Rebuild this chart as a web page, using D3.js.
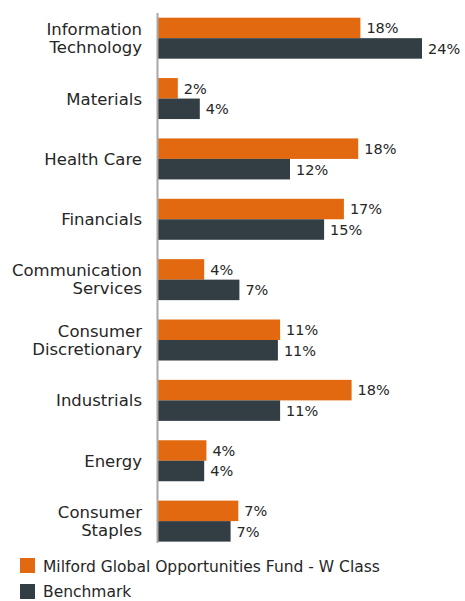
<!DOCTYPE html>
<html>
<head>
<meta charset="utf-8">
<script src="https://cdn.jsdelivr.net/npm/d3@7/dist/d3.min.js"></script>
<style>
  html, body { margin: 0; padding: 0; background: #ffffff; }
  svg { display: block; }
  text { font-family: "DejaVu Sans", sans-serif; fill: #262626; }
</style>
</head>
<body>
<svg id="chart" width="465" height="601"></svg>
<script>
// ---- data ----
const categories = [
  ["Information", "Technology"],
  ["Materials"],
  ["Health Care"],
  ["Financials"],
  ["Communication", "Services"],
  ["Consumer", "Discretionary"],
  ["Industrials"],
  ["Energy"],
  ["Consumer", "Staples"]
];
const seriesNames = ["Milford Global Opportunities Fund - W Class", "Benchmark"];
const fundValues = [18.4, 1.8, 18.2, 16.9, 4.2, 11.1, 17.6, 4.4, 7.3];
const benchmarkValues = [24.0, 3.8, 12.0, 15.1, 7.4, 10.9, 11.1, 4.2, 6.6];
const seriesColors = ["#E2690F", "#333D44"];

// ---- layout ----
const svg = d3.select("#chart");
const catKeys = categories.map(c => c.join(" "));
const x = d3.scaleLinear().domain([0, 30]).range([158, 158 + 330]);
const y = d3.scaleBand().domain(catKeys).range([8, 551.3]).padding(0);
const groupH = 41;
const sub = d3.scaleBand().domain([0, 1])
  .range([(y.bandwidth() - groupH) / 2, (y.bandwidth() + groupH) / 2]).padding(0);

const rows = catKeys.map((k, i) => ({ key: k, lines: categories[i], vals: [fundValues[i], benchmarkValues[i]] }));

// bars
const g = svg.append("g");
rows.forEach(r => {
  r.vals.forEach((v, s) => {
    g.append("rect")
      .attr("x", x(0))
      .attr("y", y(r.key) + sub(s))
      .attr("width", x(v) - x(0))
      .attr("height", sub.bandwidth())
      .attr("fill", seriesColors[s]);
    g.append("text")
      .attr("x", x(v) + 6)
      .attr("y", y(r.key) + sub(s) + sub.bandwidth() / 2)
      .attr("dy", "0.37em")
      .attr("font-size", "14.5px")
      .text(Math.round(v) + "%");
  });
  const cy = y(r.key) + y.bandwidth() / 2;
  const t = g.append("text")
    .attr("text-anchor", "end")
    .attr("font-size", "16.5px");
  if (r.lines.length === 1) {
    t.append("tspan").attr("x", 142).attr("y", cy + 6).text(r.lines[0]);
  } else {
    t.append("tspan").attr("x", 142).attr("y", cy - 3.5).text(r.lines[0]);
    t.append("tspan").attr("x", 142).attr("y", cy + 14.5).text(r.lines[1]);
  }
});

// axis line
const yAxis = d3.axisLeft(y).tickSize(0).tickFormat("");
const axG = svg.append("g").attr("transform", `translate(${x(0) - 0.5},0)`).call(yAxis);
axG.select(".domain").remove();
axG.append("line")
  .attr("x1", 0).attr("x2", 0)
  .attr("y1", 13).attr("y2", 543)
  .attr("stroke", "#A8A8A8").attr("stroke-width", 2);

// legend
const leg = svg.append("g");
seriesNames.forEach((name, i) => {
  leg.append("rect")
    .attr("x", 20).attr("y", 558 + i * 26)
    .attr("width", 15).attr("height", 15)
    .attr("fill", seriesColors[i]);
  leg.append("text")
    .attr("x", 43).attr("y", 572.3 + i * 25)
    .attr("font-size", "15.5px")
    .text(name);
});
</script>
</body>
</html>
